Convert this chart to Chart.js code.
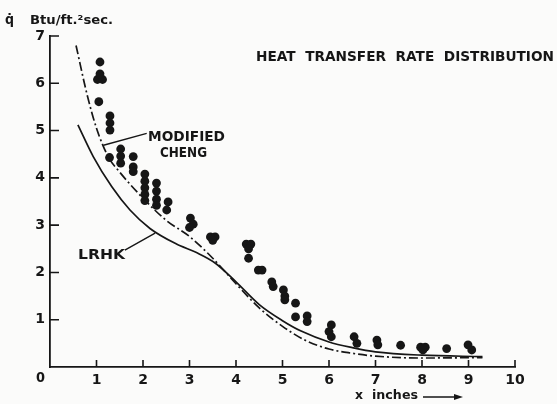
<!DOCTYPE html>
<html><head><meta charset="utf-8">
<script src="https://cdn.jsdelivr.net/npm/chart.js@4.4.1/dist/chart.umd.min.js"></script>
<style>html,body{margin:0;padding:0;background:#fbfbfa;}#wrap{position:relative;width:557px;height:404px;}</style>
</head><body><div id="wrap"><canvas id="c" width="557" height="404"></canvas></div>
<script>
// ---- data ----
const xTickValues = [1,2,3,4,5,6,7,8,9,10];
const yTickValues = [1,2,3,4,5,6,7];
const measuredX = [1.075,1.02,1.13,1.075,1.05,
  1.29,1.29,1.29,
  1.28,1.52,1.52,1.52,
  1.79,1.79,1.79,
  2.04,2.04,2.04,2.04,2.04,
  2.29,2.29,2.29,2.29,
  2.54,2.51,
  3.02,3.08,3.0,
  3.45,3.55,3.5,
  4.22,4.32,4.27,4.27,
  4.48,4.56,
  4.77,4.8,
  5.02,5.05,5.05,
  5.28,5.28,
  5.53,5.53,
  6.05,6.0,6.05,
  6.54,6.6,
  7.03,7.05,
  7.54,
  7.97,8.07,8.02,
  8.53,
  8.99,9.07];
const measuredY = [6.45,6.08,6.08,6.2,5.61,
  5.31,5.16,5.01,
  4.43,4.61,4.46,4.31,
  4.45,4.23,4.13,
  4.08,3.93,3.79,3.65,3.52,
  3.89,3.72,3.55,3.42,
  3.49,3.32,
  3.15,3.02,2.95,
  2.75,2.75,2.68,
  2.6,2.6,2.5,2.3,
  2.05,2.05,
  1.8,1.7,
  1.63,1.5,1.42,
  1.35,1.06,
  1.08,0.96,
  0.89,0.75,0.64,
  0.64,0.5,
  0.57,0.47,
  0.46,
  0.42,0.42,0.36,
  0.39,
  0.47,0.36];
const chengX = [0.56,0.8,1.0,1.25,1.5,2.0,2.5,3.0,3.5,4.0,4.5,5.0,5.5,6.0,6.5,7.0,8.0,9.3];
const chengY = [6.8,5.75,5.05,4.45,4.12,3.57,3.1,2.76,2.3,1.76,1.25,0.86,0.56,0.38,0.29,0.23,0.19,0.2];
const lrhkX = [0.6,0.93,1.33,1.72,2.15,2.72,3.15,3.55,4.0,4.5,5.0,5.4,6.0,6.5,7.0,8.0,9.3];
const lrhkY = [5.12,4.45,3.81,3.32,2.93,2.6,2.42,2.2,1.8,1.32,0.98,0.76,0.53,0.41,0.32,0.25,0.22];

const pts = (xs, ys) => xs.map((x, i) => ({x, y: ys[i]}));
const INK = '#161616';
const FONT = '"DejaVu Sans", sans-serif';

function fitText(ctx, text, left, right, cy, size) {
  ctx.save();
  ctx.font = 'bold ' + size + 'px ' + FONT;
  ctx.textBaseline = 'middle';
  ctx.textAlign = 'left';
  const w = ctx.measureText(text).width;
  const sx = (right - left) / w;
  ctx.translate(left, cy);
  ctx.scale(sx, 1);
  ctx.fillStyle = INK;
  ctx.fillText(text, 0, 0);
  ctx.restore();
}

const decor = {
  id: 'decor',
  afterDraw(chart) {
    const ctx = chart.ctx, xs = chart.scales.x, ys = chart.scales.y;
    const X = v => xs.getPixelForValue(v), Y = v => ys.getPixelForValue(v);
    ctx.save();
    ctx.strokeStyle = INK; ctx.lineWidth = 1.6;
    // inward ticks
    ctx.beginPath();
    yTickValues.forEach(v => { ctx.moveTo(X(0), Y(v)); ctx.lineTo(X(0) + 9, Y(v)); });
    xTickValues.forEach(v => { ctx.moveTo(X(v), Y(0)); ctx.lineTo(X(v), Y(0) - 7); });
    ctx.stroke();
    // leader lines
    ctx.lineWidth = 1.4;
    ctx.beginPath();
    ctx.moveTo(X(1.15), Y(4.69)); ctx.lineTo(X(2.08), Y(4.94));
    ctx.moveTo(X(1.61), Y(2.47)); ctx.lineTo(X(2.26), Y(2.83));
    ctx.stroke();
    // arrow for x label
    ctx.beginPath();
    ctx.moveTo(423, 397); ctx.lineTo(458, 397); ctx.stroke();
    ctx.fillStyle = INK;
    ctx.beginPath(); ctx.moveTo(463, 397); ctx.lineTo(454, 394); ctx.lineTo(454, 400); ctx.closePath(); ctx.fill();
    ctx.restore();
    // texts
    fitText(ctx, 'q\u0307', 5, 14, 20, 14);
    fitText(ctx, 'Btu/ft.\u00B2sec.', 30, 113, 21, 13);
    fitText(ctx, 'HEAT  TRANSFER  RATE  DISTRIBUTION', 256, 554, 57, 14);
    fitText(ctx, 'MODIFIED', 148, 225, 137, 14);
    fitText(ctx, 'CHENG', 160, 207, 153, 14);
    fitText(ctx, 'LRHK', 78, 125, 255, 14);
    fitText(ctx, 'x', 355, 363, 396, 13);
    fitText(ctx, 'inches', 372, 418, 396, 13);
    fitText(ctx, '0', 36, 45, 378, 14);
  }
};

new Chart(document.getElementById('c'), {
  type: 'scatter',
  data: {
    datasets: [
      { label: 'Measured', data: pts(measuredX, measuredY), pointRadius: 4.4, pointBackgroundColor: INK, pointBorderWidth: 0, showLine: false, order: 0 },
      { label: 'Modified Cheng', data: pts(chengX, chengY), showLine: true, borderColor: INK, borderWidth: 1.7, borderDash: [9, 3, 2, 3], pointRadius: 0, cubicInterpolationMode: 'monotone', fill: false, order: 1 },
      { label: 'LRHK', data: pts(lrhkX, lrhkY), showLine: true, borderColor: INK, borderWidth: 1.7, pointRadius: 0, cubicInterpolationMode: 'monotone', fill: false, order: 2 }
    ]
  },
  options: {
    responsive: false, animation: false, devicePixelRatio: 1,
    layout: { padding: { left: 0, right: 42, top: 36, bottom: 0 } },
    plugins: { legend: { display: false }, tooltip: { enabled: false } },
    scales: {
      x: {
        type: 'linear', min: 0, max: 10,
        afterFit: s => { s.height = 37; },
        ticks: { stepSize: 1, autoSkip: false, maxRotation: 0, padding: 5, color: INK,
          font: { family: FONT, size: 14, weight: 'bold' },
          callback: v => (v === 0 ? '' : String(v)) },
        grid: { display: true, drawOnChartArea: false, drawTicks: false, color: 'rgba(0,0,0,0)' },
        border: { display: true, color: INK, width: 1.8 }
      },
      y: {
        type: 'linear', min: 0, max: 7,
        afterFit: s => { s.width = 50; },
        ticks: { stepSize: 1, autoSkip: false, padding: 5, color: INK,
          font: { family: FONT, size: 14, weight: 'bold' },
          callback: v => (v === 0 ? '' : String(v)) },
        grid: { display: true, drawOnChartArea: false, drawTicks: false, color: 'rgba(0,0,0,0)' },
        border: { display: true, color: INK, width: 1.8 }
      }
    }
  },
  plugins: [decor]
});
</script>
</body></html>
